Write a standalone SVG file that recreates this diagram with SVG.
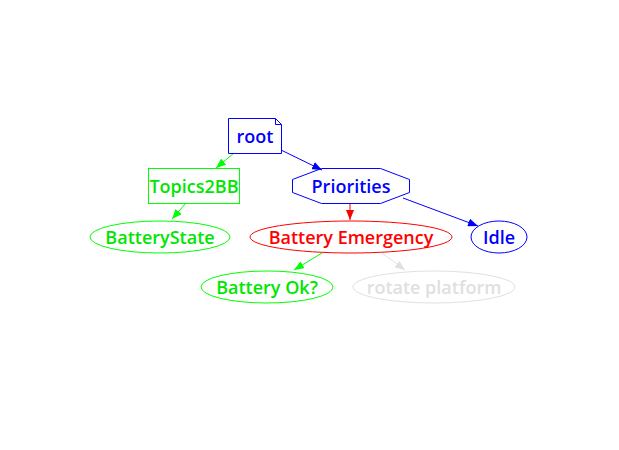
<svg xmlns="http://www.w3.org/2000/svg" width="619" height="450" viewBox="0 0 619 450">
<style>
text{font-family:"Open Sans","DejaVu Sans",sans-serif;font-size:18px;font-weight:600;text-anchor:middle;dominant-baseline:central}
.b{stroke:#0000ff;fill:none}
.g{stroke:#00ff00;fill:none}
.r{stroke:#ff0000;fill:none}
.y{stroke:#e0e0e0;fill:none}
.tb{fill:#0000ff}.tg{fill:#00e600}.tr{fill:#ff0000}.ty{fill:#e0e0e0}
</style>
<defs>
<marker id="ab" viewBox="0 0 10 8" refX="10" refY="4" markerWidth="10" markerHeight="8" markerUnits="userSpaceOnUse" orient="auto"><path d="M0,0L10,4L0,8z" fill="#0000ff"/></marker>
<marker id="ag" viewBox="0 0 10 8" refX="10" refY="4" markerWidth="10" markerHeight="8" markerUnits="userSpaceOnUse" orient="auto"><path d="M0,0L10,4L0,8z" fill="#00ff00"/></marker>
<marker id="ar" viewBox="0 0 10 8" refX="10" refY="4" markerWidth="10" markerHeight="8" markerUnits="userSpaceOnUse" orient="auto"><path d="M0,0L10,4L0,8z" fill="#ff0000"/></marker>
<marker id="ay" viewBox="0 0 10 8" refX="10" refY="4" markerWidth="10" markerHeight="8" markerUnits="userSpaceOnUse" orient="auto"><path d="M0,0L10,4L0,8z" fill="#e0e0e0"/></marker>
</defs>
<rect width="619" height="450" fill="#fff"/>
<g id="connectors">
<line class="g" x1="234" y1="153" x2="216" y2="168" marker-end="url(#ag)"/>
<line class="b" x1="281" y1="150" x2="322" y2="170" marker-end="url(#ab)"/>
<line class="g" x1="186" y1="203" x2="172" y2="219" marker-end="url(#ag)"/>
<line class="r" x1="350" y1="203" x2="350" y2="220" marker-end="url(#ar)"/>
<line class="b" x1="403" y1="198" x2="478" y2="226" marker-end="url(#ab)"/>
<line class="g" x1="322" y1="253" x2="294" y2="270" marker-end="url(#ag)"/>
<line class="y" x1="382" y1="253" x2="405" y2="270" marker-end="url(#ay)"/>
</g>
<g id="root">
<path class="b" d="M228.5,118.5H275.5L281.5,124.5V153.5H228.5Z M275.5,118.5V124.5H281.5"/>
<text class="tb" x="255" y="136">root</text>
</g>
<g id="topics2bb">
<rect class="g" x="148.5" y="168.5" width="91" height="35"/>
<text class="tg" x="194" y="186">Topics2BB</text>
</g>
<g id="priorities">
<polygon class="b" points="321.5,168.5 380.5,168.5 409.5,179.5 409.5,192.5 380.5,203.5 321.5,203.5 292.5,192.5 292.5,179.5"/>
<text class="tb" x="351" y="186">Priorities</text>
</g>
<g id="batterystate">
<ellipse class="g" cx="160" cy="237" rx="70" ry="16"/>
<text class="tg" x="160" y="237">BatteryState</text>
</g>
<g id="battery-emergency">
<ellipse class="r" cx="351" cy="237" rx="101" ry="16"/>
<text class="tr" x="351" y="237">Battery Emergency</text>
</g>
<g id="idle">
<ellipse class="b" cx="499" cy="237" rx="28" ry="16"/>
<text class="tb" x="499" y="237">Idle</text>
</g>
<g id="battery-ok">
<ellipse class="g" cx="267" cy="287" rx="66" ry="16"/>
<text class="tg" x="267" y="287">Battery Ok?</text>
</g>
<g id="rotate-platform">
<ellipse class="y" cx="434" cy="287" rx="81" ry="16"/>
<text class="ty" x="434" y="287">rotate platform</text>
</g>
</svg>
